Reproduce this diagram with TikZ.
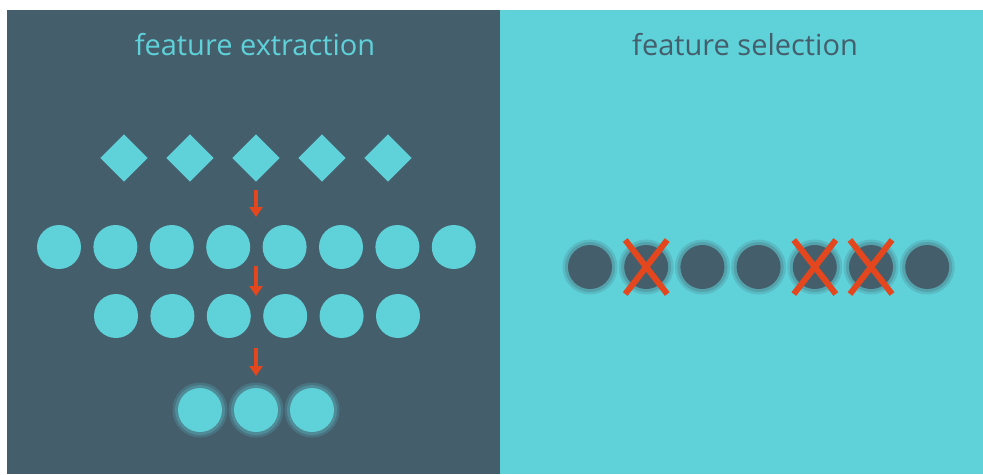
\documentclass[tikz,border=0pt]{standalone}
\usepackage{fontspec}
\setmainfont{Open Sans}
\usetikzlibrary{shapes.geometric, arrows.meta, positioning}
\definecolor{slate}{HTML}{455E6B}
\definecolor{aqua}{HTML}{5ED1D9}
\definecolor{rust}{HTML}{E4461E}

\begin{document}
\begin{tikzpicture}[x=0.02cm, y=-0.02cm,
  title/.style={font=\fontsize{16.5}{19}\selectfont},
  gem/.style={diamond, fill=aqua, inner sep=0, minimum width=0.95cm, minimum height=0.95cm},
  dot/.style={circle, fill=aqua, inner sep=0, minimum size=0.88cm},
  hole/.style={circle, fill=slate, inner sep=0, minimum size=0.88cm},
  arrow/.style={-{Triangle[width=0.26cm, length=0.2cm]}, rust, line width=2.2pt},
  cross/.style={rust, line width=3.4pt}
]

% panels
\fill[white] (0,0) rectangle (983,474);
\fill[slate] (7,10) rectangle (500,474);
\fill[aqua] (500,10) rectangle (983,474);

\node[title, text=aqua] (extract) at (255,45) {feature extraction};
\node[title, text=slate] (select) at (745,45) {feature selection};

% extraction
\foreach \i in {1,...,5}
  \node[gem] (gem\i) at ({124+66*(\i-1)},158) {};
\foreach \i in {1,...,8}
  \node[dot] (a\i) at ({59+56.4*(\i-1)},247) {};
\foreach \i in {1,...,6}
  \node[dot] (b\i) at ({116+56.4*(\i-1)},316) {};
\foreach \i in {1,...,3} {
  \fill[aqua!55!slate, opacity=0.35] ({200+56*(\i-1)},410) circle (27.5);
  \fill[aqua!55!slate, opacity=0.6] ({200+56*(\i-1)},410) circle (25);
  \node[dot] (c\i) at ({200+56*(\i-1)},410) {};
}

\coordinate (s1) at (256,190);
\coordinate (e1) at (256,217);
\coordinate (s2) at (256,266);
\coordinate (e2) at (256,296);
\coordinate (s3) at (256,348);
\coordinate (e3) at (256,376);
\draw[arrow] (s1) -- (e1);
\draw[arrow] (s2) -- (e2);
\draw[arrow] (s3) -- (e3);

% selection
\foreach \i in {1,...,7} {
  \fill[slate!55!aqua, opacity=0.35] ({590+56.2*(\i-1)},267) circle (27.5);
  \fill[slate!55!aqua, opacity=0.6] ({590+56.2*(\i-1)},267) circle (25);
  \node[hole] (k\i) at ({590+56.2*(\i-1)},267) {};
}
\foreach \k in {k2,k5,k6} {
  \draw[cross] (\k) ++(-21,-27) -- ++(42,54);
  \draw[cross] (\k) ++(21,-27) -- ++(-42,54);
}

\end{tikzpicture}
\end{document}
